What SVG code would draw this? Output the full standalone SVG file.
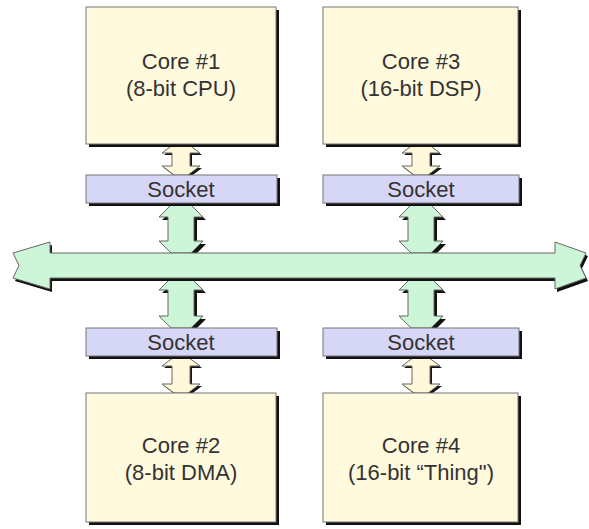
<svg xmlns="http://www.w3.org/2000/svg" width="589" height="529" viewBox="0 0 589 529">
<style>
.shadow{fill:#111;stroke:none}
.core{fill:#FFFADD;stroke:#777;stroke-width:1}
.sock{fill:#D6D6F6;stroke:#777;stroke-width:1}
.green{fill:#CDF5D8;stroke:#666;stroke-width:1}
.cream{fill:#FFF8DA;stroke:#666;stroke-width:1}
text{font-family:"Liberation Sans",Arial,sans-serif;font-size:22px;fill:#333;text-anchor:middle}
</style>
<defs>
<polygon id="a1" points="174,144 188,144 200,153 190,153 190,166 200,166 188,175 174,175 162,166 172,166 172,153 162,153"/>
<polygon id="a3" points="414,144 428,144 440,153 430,153 430,166 440,166 428,175 414,175 402,166 412,166 412,153 402,153"/>
<polygon id="a2" points="174,357 188,357 200,366 190,366 190,384 200,384 188,393 174,393 162,384 172,384 172,366 162,366"/>
<polygon id="a4" points="414,357 428,357 440,366 430,366 430,384 440,384 428,393 414,393 402,384 412,384 412,366 402,366"/>
<polygon id="g1" points="171,205 191,205 203,217 194,217 194,241 203,241 191,253 171,253 159,241 168,241 168,217 159,217"/>
<polygon id="g2" points="171,278 191,278 203,290 194,290 194,316 203,316 191,328 171,328 159,316 168,316 168,290 159,290"/>
<polygon id="g3" points="411,205 431,205 443,217 434,217 434,241 443,241 431,253 411,253 399,241 408,241 408,217 399,217"/>
<polygon id="g4" points="411,278 431,278 443,290 434,290 434,316 443,316 431,328 411,328 399,316 408,316 408,290 399,290"/>
<polygon id="bus" points="50,242 50,253 555,253 555,242 586,253 580,265.5 586,278 555,289 555,278 50,278 50,289 13,278 19,265.5 13,253"/>
</defs>
<g id="connectors">
<use href="#a1" class="shadow" transform="translate(2,2)"/><use href="#a1" class="cream"/>
<use href="#a3" class="shadow" transform="translate(2,2)"/><use href="#a3" class="cream"/>
<use href="#a2" class="shadow" transform="translate(2,2)"/><use href="#a2" class="cream"/>
<use href="#a4" class="shadow" transform="translate(2,2)"/><use href="#a4" class="cream"/>
<use href="#g1" class="shadow" transform="translate(3,3)"/><use href="#g1" class="green"/>
<use href="#g2" class="shadow" transform="translate(3,3)"/><use href="#g2" class="green"/>
<use href="#g3" class="shadow" transform="translate(3,3)"/><use href="#g3" class="green"/>
<use href="#g4" class="shadow" transform="translate(3,3)"/><use href="#g4" class="green"/>
<use href="#bus" class="shadow" transform="translate(2,3)"/><use href="#bus" class="green"/>
</g>
<g id="core1">
<rect class="shadow" x="89" y="10" width="190" height="137"/>
<rect class="core" x="86" y="7" width="190" height="137"/>
<text x="181" y="69">Core #1</text>
<text x="181" y="96">(8-bit CPU)</text>
</g>
<g id="core3">
<rect class="shadow" x="326" y="10" width="195" height="137"/>
<rect class="core" x="323" y="7" width="195" height="137"/>
<text x="421" y="69">Core #3</text>
<text x="421" y="96">(16-bit DSP)</text>
</g>
<g id="socket1">
<rect class="shadow" x="89" y="178" width="191" height="28"/>
<rect class="sock" x="86" y="175" width="191" height="28"/>
<text x="181" y="197">Socket</text>
</g>
<g id="socket3">
<rect class="shadow" x="326" y="178" width="196" height="28"/>
<rect class="sock" x="323" y="175" width="196" height="28"/>
<text x="421" y="197">Socket</text>
</g>
<g id="socket2">
<rect class="shadow" x="89" y="331" width="191" height="28"/>
<rect class="sock" x="86" y="328" width="191" height="28"/>
<text x="181" y="350">Socket</text>
</g>
<g id="socket4">
<rect class="shadow" x="326" y="331" width="196" height="28"/>
<rect class="sock" x="323" y="328" width="196" height="28"/>
<text x="421" y="350">Socket</text>
</g>
<g id="core2">
<rect class="shadow" x="89" y="396" width="190" height="129"/>
<rect class="core" x="86" y="393" width="190" height="129"/>
<text x="181" y="453">Core #2</text>
<text x="181" y="480">(8-bit DMA)</text>
</g>
<g id="core4">
<rect class="shadow" x="326" y="396" width="195" height="129"/>
<rect class="core" x="323" y="393" width="195" height="129"/>
<text x="421" y="453">Core #4</text>
<text x="421" y="480">(16-bit “Thing")</text>
</g>
</svg>
